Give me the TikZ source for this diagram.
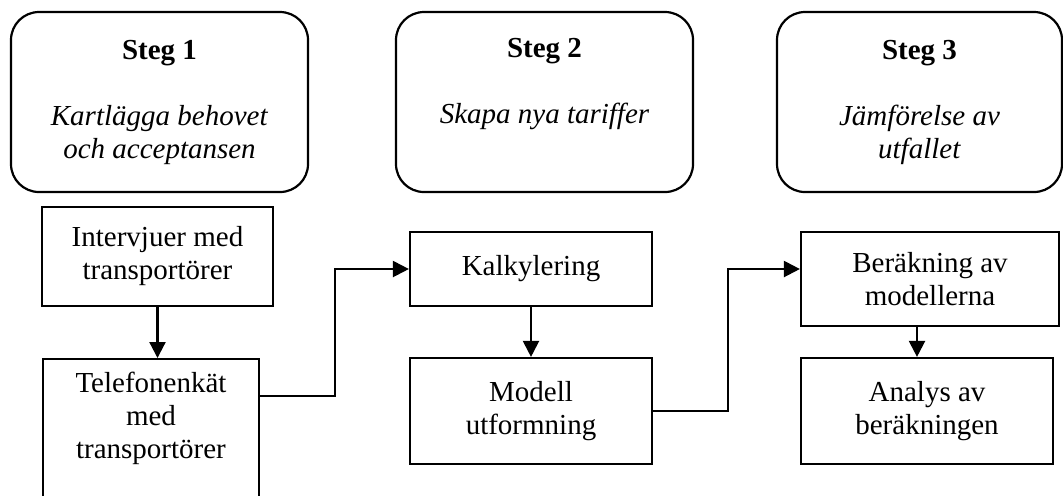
\documentclass[tikz,border=0pt]{standalone}
\usepackage{fontspec}
\setmainfont{Liberation Serif}
\usetikzlibrary{positioning,calc,arrows.meta}

\begin{document}
\begin{tikzpicture}[x=1pt,y=-1pt,font=\fontsize{14.5}{16.5}\selectfont,
  stegbox/.style={draw,line width=1.1pt,rounded corners=14pt,align=center,
    minimum width=148.5pt,minimum height=90pt},
  procbox/.style={draw,line width=1.1pt,align=center,inner sep=4pt},
  arr/.style={line width=1.1pt,-{Triangle[length=8pt,width=8pt]}}]

  \useasboundingbox (0,0) rectangle (531.5,247.5);
  \clip (0,0) rectangle (531.5,247.5);

  % the three steps
  \node[stegbox] (steg1) at (79.75,51) {\textbf{Steg 1}\\ \strut\\ \textit{Kartlägga behovet}\\ \textit{och acceptansen}};
  \node[stegbox] (steg2) at (272.25,51) {\textbf{Steg 2}\\ \strut\\ \textit{Skapa nya tariffer}\\ \strut};
  \node[stegbox,minimum width=142.5pt] (steg3) at (459.75,51) {\textbf{Steg 3}\\ \strut\\ \textit{Jämförelse av}\\ \textit{utfallet}};

  % boxes under each step
  \node[procbox,minimum width=115.5pt,minimum height=49.5pt] (intv) at (78.75,128.25) {Intervjuer med\\ transportörer};
  \node[procbox,minimum width=108pt,minimum height=78pt,anchor=north] (tel) at (75.5,179) {Telefonenkät\\ med\\ transportörer\\ \strut};
  \node[procbox,minimum width=121pt,minimum height=37pt] (kalk) at (265.5,134.5) {\raisebox{2pt}{Kalkylering}};
  \node[procbox,minimum width=121pt,minimum height=53pt] (modell) at (265.5,205.5) {Modell\\ utformning};
  \node[procbox,minimum width=129pt,minimum height=47pt] (berak) at (465,139.5) {Beräkning av\\ modellerna};
  \node[procbox,minimum width=126pt,minimum height=53pt] (analys) at (463.5,205.5) {Analys av\\ beräkningen};

  \draw[arr] (intv.south) -- (intv.south |- tel.north);
  \draw[arr] ([yshift=-19pt]tel.north east) -- ++(37.5,0) |- (kalk.west);
  \draw[arr] (kalk.south) -- (kalk.south |- modell.north);
  \draw[arr] (modell.east) -- ++(37.5,0) |- (kalk.west -| berak.west);
  \draw[arr] ([xshift=-6.5pt]berak.south) -- ([xshift=-6.5pt]berak.south |- analys.north);
\end{tikzpicture}
\end{document}
